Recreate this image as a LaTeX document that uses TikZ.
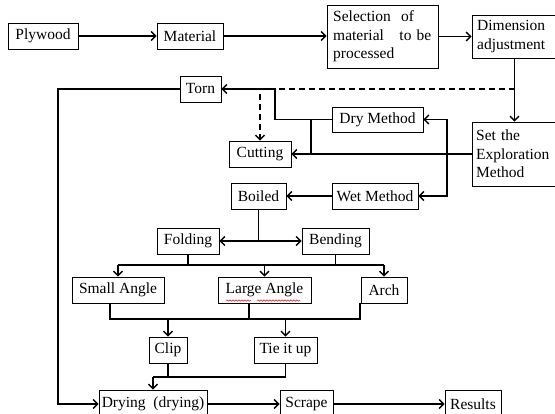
\documentclass[tikz,border=0pt]{standalone}
\usepackage{fontspec}
\setmainfont{Liberation Serif}
\usetikzlibrary{arrows.meta,decorations.pathmorphing}
\begin{document}
\begin{tikzpicture}[x=1pt,y=-1pt,
  box/.style={draw,line width=0.8pt,inner sep=0pt,font=\fontsize{15.5}{18.5}\selectfont},
  lbox/.style={inner sep=0pt,font=\fontsize{15.5}{18.5}\selectfont,align=left,text width=#1},
  conn/.style={line width=1.4pt},
  arr/.style={conn,-{Straight Barb[length=4.5pt,width=9pt,line width=1.4pt]}},
  darr/.style={arr,dashed,dash pattern=on 6pt off 4pt}]
\useasboundingbox (0,0) rectangle (555,414);
% nodes
\node[box,minimum width=70pt,minimum height=26pt] (plywood) at (43,36) {Plywood};
\node[box,minimum width=66pt,minimum height=26pt] (material) at (190,36) {Material};
\node[box,minimum width=111pt,minimum height=63pt] (selection) at (382.5,36.5) {};
\node[lbox=104pt,anchor=west] at (333,36.5) {Selection\ \ of\\material\ \ \ to be\\processed};
\node[box,minimum width=85pt,minimum height=43pt] (dimension) at (514.5,36.5) {};
\node[lbox=80pt,anchor=west] at (477,36.5) {Dimension\\adjustment};
\node[box,minimum width=85pt,minimum height=64pt] (setexp) at (514.5,154) {};
\node[lbox=80pt,anchor=west] at (476,154) {Set the\\Exploration\\Method};
\node[box,minimum width=41pt,minimum height=26pt] (torn) at (200.5,89) {Torn};
\node[box,minimum width=91pt,minimum height=25pt] (dry) at (377.5,119.5) {Dry Method};
\node[box,minimum width=62pt,minimum height=26pt] (cutting) at (260,154) {Cutting};
\node[box,minimum width=55pt,minimum height=26pt] (boiled) at (258.5,196) {Boiled};
\node[box,minimum width=86pt,minimum height=26pt] (wet) at (375,196) {Wet Method};
\node[box,minimum width=62pt,minimum height=26pt] (folding) at (188,241) {Folding};
\node[box,minimum width=67pt,minimum height=26pt] (bending) at (335.5,241) {Bending};
\node[box,minimum width=92pt,minimum height=26pt] (small) at (118,290) {Small Angle};
\node[box,minimum width=93pt,minimum height=26pt] (large) at (264.5,290) {Large Angle};
\node[box,minimum width=46pt,minimum height=26pt] (arch) at (384,290) {Arch};
\node[box,minimum width=38pt,minimum height=26pt] (clip) at (168,350) {Clip};
\node[box,minimum width=63pt,minimum height=26pt] (tie) at (285.5,350) {Tie it up};
\node[box,minimum width=108pt,minimum height=28pt] (drying) at (153,404) {Drying\ \ (drying)};
\node[box,minimum width=53pt,minimum height=28pt] (scrape) at (306.5,404) {Scrape};
\node[box,minimum width=56pt,minimum height=28pt] (results) at (473,404) {Results};
% spell-check squiggles
\draw[red,line width=0.5pt,decorate,decoration={snake,amplitude=0.7pt,segment length=3pt}] (226,300.5) -- (251,300.5);
\draw[red,line width=0.5pt,decorate,decoration={snake,amplitude=0.7pt,segment length=3pt}] (257,300.5) -- (300,300.5);
% coordinates
\coordinate (dj) at (dimension.south |- 0,89);
\coordinate (jd) at (275,89);
\coordinate (jv) at (447,154);
\coordinate (jb) at (boiled.south |- 0,241);
\coordinate (ha) at (118,265);
\coordinate (hb) at (384,265);
\coordinate (ma) at (110,319);
\coordinate (mb) at (360,319);
\coordinate (ca) at (153,377);
\coordinate (cb) at (285.5,377);
\coordinate (tl) at (58,89);
% connectors
\draw[arr] (plywood) -- (material);
\draw[arr] (material.east) -- (selection.west |- material.east);
\draw[arr] (selection.east |- dimension.west) -- (dimension.west);
\draw[arr] (dimension.south) -- (setexp.north);
\draw[darr] (dj) -- (cutting.north |- dj) -- (cutting.north);
\draw[arr] (dry.west) -| (jd) -- (torn.east);
\draw[conn] (311,119.5) -- (311,154);
\draw[arr] (setexp.west) -- (cutting.east);
\draw[arr] (jv) |- (dry.east);
\draw[arr] (jv) |- (wet.east);
\draw[arr] (wet) -- (boiled);
\draw[conn] (boiled.south) -- (jb);
\draw[arr] (jb) -- (folding.east);
\draw[arr] (jb) -- (bending.west);
\draw[conn] (folding.south) -- (folding.south |- ha);
\draw[conn] (bending.south) -- (bending.south |- ha);
\draw[conn] (ha) -- (hb);
\draw[arr] (ha) -- (small.north);
\draw[arr] (large.north |- ha) -- (large.north);
\draw[arr] (hb) -- (arch.north);
\draw[conn] (small.south -| ma) -- (ma) -- (mb) -- (arch.south -| mb);
\draw[conn] (249,303) -- (249,319);
\draw[arr] (clip.north |- ma) -- (clip.north);
\draw[arr] (tie.north |- ma) -- (tie.north);
\draw[conn] (clip.south) -- (clip.south |- ca);
\draw[conn] (tie.south) -- (cb) -- (ca);
\draw[arr] (ca) -- (drying.north);
\draw[arr] (torn.west) -- (tl) |- (drying.west);
\draw[arr] (drying) -- (scrape);
\draw[arr] (scrape) -- (results);
\end{tikzpicture}
\end{document}
